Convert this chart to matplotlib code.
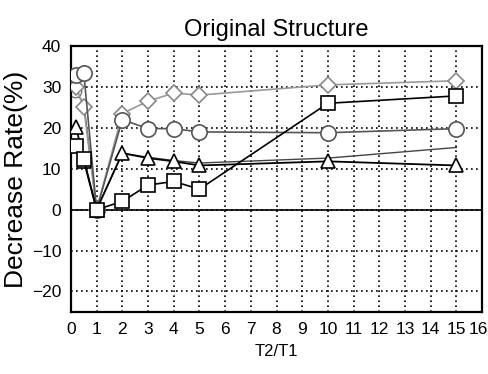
import matplotlib
matplotlib.use('Agg')
import matplotlib.pyplot as plt
import matplotlib.transforms as mtransforms
import numpy as np

# data
x_main = [0.2, 0.5, 1, 2, 3, 4, 5, 10, 15]
diamond_y = [30, 25, 0, 23.5, 26.5, 28.5, 28, 30.5, 31.5]
circle_y = [33, 33.5, 0, 22, 19.8, 19.8, 19, 18.8, 19.8]
triangle_y = [20.3, 12, 0, 13.8, 12.6, 11.8, 10.8, 11.8, 10.8]
square_y = [15.5, 12.5, 0, 2, 6, 6.9, 5, 26, 27.8]
x_plain = [0.15, 0.5, 1, 2, 3, 4, 5, 10, 15]
plain_y = [29, 26, 0, 13.8, 12.8, 12, 11.4, 12.6, 15.2]

x_ticks = list(range(0, 17))
y_ticks = [-20, -10, 0, 10, 20, 30, 40]

plt.rcParams['font.family'] = ['Liberation Sans', 'DejaVu Sans']

fig = plt.figure(figsize=(4.89, 3.74), dpi=100)
ax = fig.add_axes([0.145, 0.166, 0.841, 0.711])

ax.axhline(0, color='black', lw=1.2, zorder=1)

ax.plot(x_plain, plain_y, color='#444444', lw=1.0, marker='o', markevery=[0],
        ms=9, mfc='white', mec='#777777', zorder=2)
ax.plot(x_main, diamond_y, color='#999999', lw=1.2, marker='D', ms=8,
        mfc='white', mec='#888888', mew=1.2, zorder=3)
ax.plot(x_main, circle_y, color='#555555', lw=1.2, marker='o', ms=11,
        mfc='white', mec='#555555', mew=1.2, zorder=4)
ax.plot(x_main, triangle_y, color='black', lw=1.3, marker='^', ms=10,
        mfc='white', mec='black', mew=1.2, zorder=5)
ax.plot(x_main, square_y, color='black', lw=1.2, marker='s', ms=10,
        mfc='white', mec='black', mew=1.2, zorder=6)

ax.set_xlim(0, 16)
ax.set_ylim(-25, 40)
ax.set_xticks(x_ticks)
ax.set_yticks(y_ticks)
ax.grid(True, color='black', linestyle=(0, (1, 2)), lw=1.2)
ax.set_axisbelow(True)
ax.tick_params(length=0, pad=7, labelsize=12.5)
for sp in ax.spines.values():
    sp.set_linewidth(1.6)

# keep the last x label inside the picture
last = ax.get_xticklabels()[-1]
last.set_transform(last.get_transform() +
                   mtransforms.ScaledTranslation(-4 / 100, 0, fig.dpi_scale_trans))

ax.set_xlabel('T2/T1', fontsize=12, labelpad=5)
ax.set_ylabel('Decrease Rate(%)', fontsize=19, labelpad=3)
ax.set_title('Original Structure', fontsize=17, pad=7)

fig.savefig('out.png', dpi=100)
